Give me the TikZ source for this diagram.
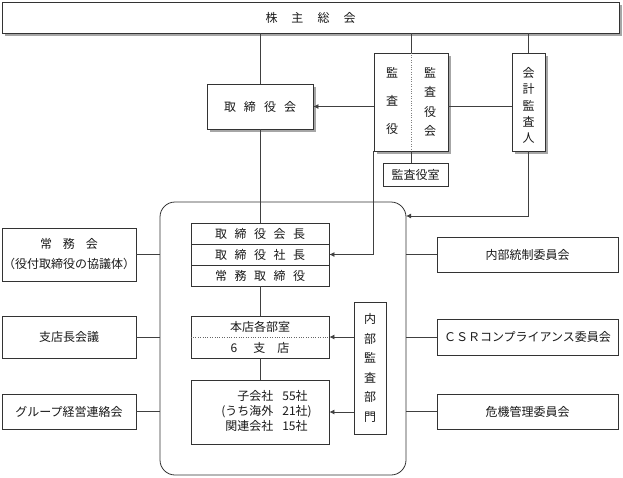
\documentclass[tikz,border=0pt]{standalone}
\usepackage{fontspec}
\newfontfamily\jp{Noto Sans CJK JP}
\usetikzlibrary{shadows,arrows.meta}
\begin{document}
\begin{tikzpicture}[x=1pt,y=-1pt,
  every node/.style={font=\jp\fontsize{12}{15}\selectfont, inner sep=0pt, text=black!90},
  box/.style={draw=black!80, line width=0.8pt, fill=white, rectangle},
  sbox/.style={box, drop shadow={shadow xshift=3pt, shadow yshift=-3pt, fill=black!35, opacity=1}},
  conn/.style={draw=black!75, line width=0.8pt},
  arr/.style={conn, -{Latex[length=5pt,width=5pt]}},
  vt28/.style={align=center, font=\jp\fontsize{12}{28}\selectfont},
  vt20/.style={align=center, font=\jp\fontsize{12}{19.5}\selectfont},
  vt16/.style={align=center, font=\jp\fontsize{12}{16.2}\selectfont}
]
\useasboundingbox (0,0) rectangle (623,477);

% top
\node[sbox, minimum width=617, minimum height=31] (agm) at (310.5,17.5) {株\hspace{14pt}主\hspace{14pt}総\hspace{14pt}会};
% board
\node[sbox, minimum width=106, minimum height=45] (bod) at (260,106.5) {取\hspace{8pt}締\hspace{8pt}役\hspace{8pt}会};
% audit
\node[sbox, minimum width=74, minimum height=98] (audit) at (411,102) {};
\draw[dotted, black!50] (audit.north) -- (audit.south);
\node[vt28] (kansayaku) at (392,101) {監\\査\\役};
\node[vt20] (kansayakukai) at (430,102) {監\\査\\役\\会};
% accounting auditor
\node[sbox, minimum width=33, minimum height=98] (auditor) at (528.5,102) {};
\node[vt16] (auditortext) at (528.5,105.5) {会\\計\\監\\査\\人};
% audit room
\node[box, minimum width=65, minimum height=23] (room) at (415.5,174.5) {監査役室};

% outer rounded box
\node[draw=black!80, line width=0.8pt, rounded corners=15pt, minimum width=246, minimum height=273, inner sep=0pt] (outer) at (283,338.5) {};

% executives
\node[box, minimum width=138, minimum height=21] (exec1) at (260,233.5) {取\hspace{7.5pt}締\hspace{7.5pt}役\hspace{7.5pt}会\hspace{7.5pt}長};
\node[box, minimum width=138, minimum height=21] (exec2) at (260,254.5) {取\hspace{7.5pt}締\hspace{7.5pt}役\hspace{7.5pt}社\hspace{7.5pt}長};
\node[box, minimum width=138, minimum height=21] (exec3) at (260,275.5) {常\hspace{7.5pt}務\hspace{7.5pt}取\hspace{7.5pt}締\hspace{7.5pt}役};

% head office
\node[box, minimum width=138, minimum height=42] (honten) at (260,337) {};
\draw[dotted, black!60] (honten.west) -- (honten.east);
\node (hontentext) at (260,327) {本店各部室};
\node (shitentext) at (260,348) {6\hspace{16pt}支\hspace{12pt}店};

% subsidiaries
\node[box, minimum width=138, minimum height=64] (subs) at (260,412) {};
\node (substext) at (266.5,412) {\begin{tabular}{@{}r@{\hspace{9pt}}l@{}}子会社&55社\\(うち海外&21社)\\関連会社&15社\end{tabular}};

% internal audit
\node[box, minimum width=32, minimum height=132] (naibu) at (370,368) {};
\node[vt20] (naibutext) at (370,368) {内\\部\\監\\査\\部\\門};

% left boxes
\node[box, minimum width=134, minimum height=53] (jomu) at (69,254.5) {};
\node (jomu1) at (69,244) {常\hspace{11pt}務\hspace{11pt}会};
\node (jomu2) at (69,264) {（役付取締役の協議体）};
\node[box, minimum width=134, minimum height=42] (shiten) at (69,337) {支店長会議};
\node[box, minimum width=134, minimum height=35] (group) at (69,411.5) {グループ経営連絡会};

% right boxes
\node[box, minimum width=181, minimum height=35] (naibutosei) at (527.5,254.5) {内部統制委員会};
\node[box, minimum width=181, minimum height=36] (csr) at (527.5,337) {ＣＳＲコンプライアンス委員会};
\node[box, minimum width=181, minimum height=35] (kiki) at (527.5,411.5) {危機管理委員会};

% connectors
\coordinate (ain) at (406,216);
\draw[conn] (agm.south -| bod.north) -- (bod.north);
\draw[conn] (bod.south) -- (exec1.north);
\draw[conn] (agm.south -| audit.north) -- (audit.north);
\draw[conn] (audit.south) -- (audit.south |- room.north);
\draw[conn] (agm.south -| auditor.north) -- (auditor.north);
\draw[arr] (auditor.south) |- (ain);
\draw[arr] (audit.west |- bod.east) -- (bod.east);
\draw[conn] ([yshift=-4pt]audit.east) -- ([yshift=-4pt]auditor.west);
\draw[arr] (audit.south west) |- (exec2.east);
\draw[conn] (exec3.south) -- (honten.north);
\draw[conn] (honten.south) -- (subs.north);
\draw[arr] (naibu.west |- honten.east) -- (honten.east);
\draw[arr] (naibu.west |- subs.east) -- (subs.east);
\draw[conn] (jomu.east) -- (jomu.east -| outer.west);
\draw[conn] (shiten.east) -- (shiten.east -| outer.west);
\draw[conn] (group.east) -- (group.east -| outer.west);
\draw[conn] (naibutosei.west) -- (naibutosei.west -| outer.east);
\draw[conn] (csr.west) -- (csr.west -| outer.east);
\draw[conn] (kiki.west) -- (kiki.west -| outer.east);
\end{tikzpicture}
\end{document}
